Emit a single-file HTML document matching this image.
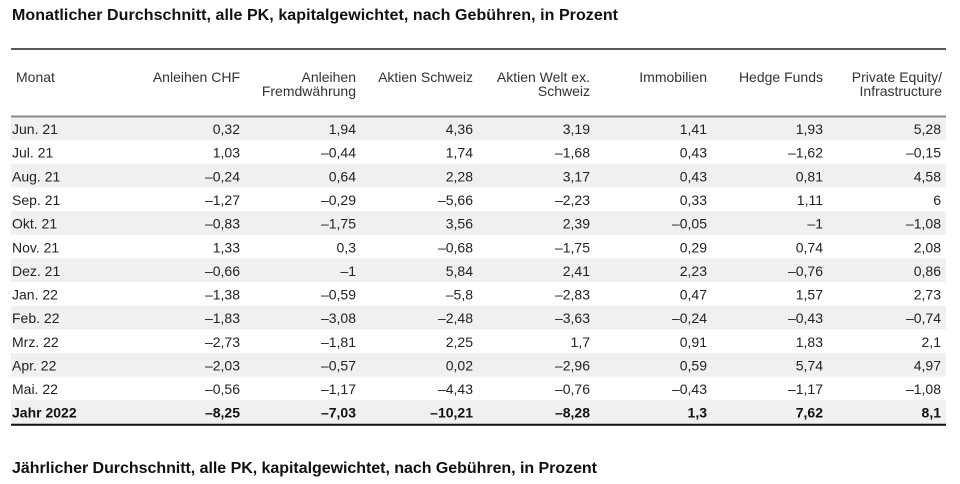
<!DOCTYPE html>
<html><head><meta charset="utf-8"><style>
html,body{margin:0;padding:0;background:#fff;}
svg{display:block;}
text{font-family:"Liberation Sans",Arial,sans-serif;}
.t{font-weight:bold;font-size:16px;fill:#111;}
.h{font-size:14px;fill:#333;}
.d{font-size:14px;fill:#222;}
.d text.n{text-anchor:end;}
.b{font-weight:bold;fill:#111;}
</style></head><body>
<svg width="960" height="484" viewBox="0 0 960 484" xmlns="http://www.w3.org/2000/svg">
<text class="t" x="12" y="20" textLength="606" lengthAdjust="spacing">Monatlicher Durchschnitt, alle PK, kapitalgewichtet, nach Gebühren, in Prozent</text>
<line x1="11" y1="49" x2="946" y2="49" stroke="#222" stroke-width="1.5"/>
<g class="h">
<text x="16" y="82">Monat</text>
<text x="240" y="82" text-anchor="end">Anleihen CHF</text>
<text x="356" y="82" text-anchor="end">Anleihen</text>
<text x="356" y="96" text-anchor="end">Fremdwährung</text>
<text x="473" y="82" text-anchor="end">Aktien Schweiz</text>
<text x="590" y="82" text-anchor="end">Aktien Welt ex.</text>
<text x="590" y="96" text-anchor="end">Schweiz</text>
<text x="707" y="82" text-anchor="end">Immobilien</text>
<text x="823" y="82" text-anchor="end">Hedge Funds</text>
<text x="942" y="82" text-anchor="end">Private Equity/</text>
<text x="942" y="96" text-anchor="end">Infrastructure</text>
</g>
<g fill="#f0f0f0">
<rect x="11" y="116.5" width="935" height="23.65"/>
<rect x="11" y="163.8" width="935" height="23.65"/>
<rect x="11" y="211.1" width="935" height="23.65"/>
<rect x="11" y="258.4" width="935" height="23.65"/>
<rect x="11" y="305.7" width="935" height="23.65"/>
<rect x="11" y="353.0" width="935" height="23.65"/>
<rect x="11" y="400.3" width="935" height="23.65"/>
</g>
<line x1="11" y1="116.5" x2="946" y2="116.5" stroke="#8a8a8a" stroke-width="2"/>
<line x1="11" y1="424.8" x2="946" y2="424.8" stroke="#111" stroke-width="2"/>

<g class="d" transform="translate(0,134)"><text x="12" y="0">Jun. 21</text><text class="n" x="240" y="0">0,32</text><text class="n" x="356" y="0">1,94</text><text class="n" x="473" y="0">4,36</text><text class="n" x="590" y="0">3,19</text><text class="n" x="707" y="0">1,41</text><text class="n" x="823" y="0">1,93</text><text class="n" x="941" y="0">5,28</text></g>
<g class="d" transform="translate(0,157.65)"><text x="12" y="0">Jul. 21</text><text class="n" x="240" y="0">1,03</text><text class="n" x="356" y="0">–0,44</text><text class="n" x="473" y="0">1,74</text><text class="n" x="590" y="0">–1,68</text><text class="n" x="707" y="0">0,43</text><text class="n" x="823" y="0">–1,62</text><text class="n" x="941" y="0">–0,15</text></g>
<g class="d" transform="translate(0,181.3)"><text x="12" y="0">Aug. 21</text><text class="n" x="240" y="0">–0,24</text><text class="n" x="356" y="0">0,64</text><text class="n" x="473" y="0">2,28</text><text class="n" x="590" y="0">3,17</text><text class="n" x="707" y="0">0,43</text><text class="n" x="823" y="0">0,81</text><text class="n" x="941" y="0">4,58</text></g>
<g class="d" transform="translate(0,204.95)"><text x="12" y="0">Sep. 21</text><text class="n" x="240" y="0">–1,27</text><text class="n" x="356" y="0">–0,29</text><text class="n" x="473" y="0">–5,66</text><text class="n" x="590" y="0">–2,23</text><text class="n" x="707" y="0">0,33</text><text class="n" x="823" y="0">1,11</text><text class="n" x="941" y="0">6</text></g>
<g class="d" transform="translate(0,228.6)"><text x="12" y="0">Okt. 21</text><text class="n" x="240" y="0">–0,83</text><text class="n" x="356" y="0">–1,75</text><text class="n" x="473" y="0">3,56</text><text class="n" x="590" y="0">2,39</text><text class="n" x="707" y="0">–0,05</text><text class="n" x="823" y="0">–1</text><text class="n" x="941" y="0">–1,08</text></g>
<g class="d" transform="translate(0,252.25)"><text x="12" y="0">Nov. 21</text><text class="n" x="240" y="0">1,33</text><text class="n" x="356" y="0">0,3</text><text class="n" x="473" y="0">–0,68</text><text class="n" x="590" y="0">–1,75</text><text class="n" x="707" y="0">0,29</text><text class="n" x="823" y="0">0,74</text><text class="n" x="941" y="0">2,08</text></g>
<g class="d" transform="translate(0,275.9)"><text x="12" y="0">Dez. 21</text><text class="n" x="240" y="0">–0,66</text><text class="n" x="356" y="0">–1</text><text class="n" x="473" y="0">5,84</text><text class="n" x="590" y="0">2,41</text><text class="n" x="707" y="0">2,23</text><text class="n" x="823" y="0">–0,76</text><text class="n" x="941" y="0">0,86</text></g>
<g class="d" transform="translate(0,299.55)"><text x="12" y="0">Jan. 22</text><text class="n" x="240" y="0">–1,38</text><text class="n" x="356" y="0">–0,59</text><text class="n" x="473" y="0">–5,8</text><text class="n" x="590" y="0">–2,83</text><text class="n" x="707" y="0">0,47</text><text class="n" x="823" y="0">1,57</text><text class="n" x="941" y="0">2,73</text></g>
<g class="d" transform="translate(0,323.2)"><text x="12" y="0">Feb. 22</text><text class="n" x="240" y="0">–1,83</text><text class="n" x="356" y="0">–3,08</text><text class="n" x="473" y="0">–2,48</text><text class="n" x="590" y="0">–3,63</text><text class="n" x="707" y="0">–0,24</text><text class="n" x="823" y="0">–0,43</text><text class="n" x="941" y="0">–0,74</text></g>
<g class="d" transform="translate(0,346.85)"><text x="12" y="0">Mrz. 22</text><text class="n" x="240" y="0">–2,73</text><text class="n" x="356" y="0">–1,81</text><text class="n" x="473" y="0">2,25</text><text class="n" x="590" y="0">1,7</text><text class="n" x="707" y="0">0,91</text><text class="n" x="823" y="0">1,83</text><text class="n" x="941" y="0">2,1</text></g>
<g class="d" transform="translate(0,370.5)"><text x="12" y="0">Apr. 22</text><text class="n" x="240" y="0">–2,03</text><text class="n" x="356" y="0">–0,57</text><text class="n" x="473" y="0">0,02</text><text class="n" x="590" y="0">–2,96</text><text class="n" x="707" y="0">0,59</text><text class="n" x="823" y="0">5,74</text><text class="n" x="941" y="0">4,97</text></g>
<g class="d" transform="translate(0,394.15)"><text x="12" y="0">Mai. 22</text><text class="n" x="240" y="0">–0,56</text><text class="n" x="356" y="0">–1,17</text><text class="n" x="473" y="0">–4,43</text><text class="n" x="590" y="0">–0,76</text><text class="n" x="707" y="0">–0,43</text><text class="n" x="823" y="0">–1,17</text><text class="n" x="941" y="0">–1,08</text></g>
<g class="d b" transform="translate(0,417.6)"><text x="12" y="0">Jahr 2022</text><text class="n" x="240" y="0">–8,25</text><text class="n" x="356" y="0">–7,03</text><text class="n" x="473" y="0">–10,21</text><text class="n" x="590" y="0">–8,28</text><text class="n" x="707" y="0">1,3</text><text class="n" x="823" y="0">7,62</text><text class="n" x="941" y="0">8,1</text></g>

<text class="t" x="12" y="473" textLength="585" lengthAdjust="spacing">Jährlicher Durchschnitt, alle PK, kapitalgewichtet, nach Gebühren, in Prozent</text>
</svg>
</body></html>
